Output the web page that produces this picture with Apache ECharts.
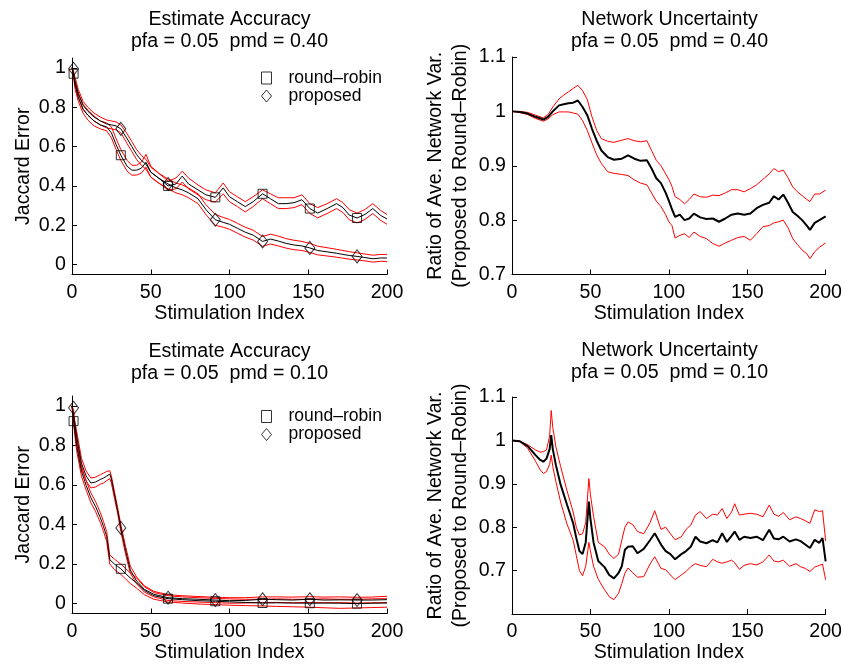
<!DOCTYPE html>
<html>
<head>
<meta charset="utf-8">
<script src="https://cdn.jsdelivr.net/npm/echarts@6/dist/echarts.min.js"></script>
<style>
  html, body { margin: 0; padding: 0; background: #fff; }
  #main { width: 845px; height: 665px; }
</style>
</head>
<body>
<div id="main"></div>
<script>
// ---- top-left: Estimate Accuracy, pmd = 0.40
var x1 = [0,1,2,4,7,10,14,18,22,25,28,31,35,38,41,44,47,50,55,61,66,70,74,80,85,91,96,100,105,110,115,121,126,131,136,141,146,151,156,162,168,172,176,181,186,191,196,200];
var rr1 = [1.0,0.97,0.91,0.85,0.79,0.76,0.73,0.71,0.70,0.67,0.61,0.556,0.50,0.48,0.48,0.49,0.52,0.47,0.44,0.40,0.41,0.45,0.41,0.38,0.355,0.342,0.39,0.345,0.32,0.295,0.32,0.36,0.335,0.31,0.31,0.315,0.33,0.285,0.262,0.285,0.31,0.29,0.252,0.237,0.255,0.285,0.25,0.232];
var rr1Up = [1.0,0.99,0.93,0.87,0.815,0.785,0.755,0.73,0.72,0.70,0.64,0.585,0.53,0.505,0.505,0.52,0.56,0.50,0.465,0.425,0.44,0.475,0.44,0.405,0.38,0.365,0.415,0.37,0.345,0.32,0.345,0.38,0.36,0.34,0.34,0.34,0.355,0.31,0.29,0.31,0.335,0.315,0.28,0.262,0.28,0.31,0.275,0.255];
var rr1Lo = [1.0,0.95,0.89,0.83,0.77,0.735,0.705,0.69,0.68,0.645,0.585,0.53,0.475,0.455,0.455,0.465,0.495,0.445,0.415,0.38,0.385,0.42,0.385,0.355,0.33,0.318,0.36,0.32,0.295,0.268,0.295,0.335,0.31,0.285,0.285,0.29,0.305,0.26,0.238,0.26,0.285,0.265,0.228,0.212,0.23,0.26,0.225,0.205];
var pr1 = [1.0,0.995,0.93,0.87,0.81,0.78,0.75,0.73,0.715,0.71,0.705,0.69,0.64,0.60,0.56,0.53,0.51,0.47,0.44,0.41,0.39,0.38,0.365,0.335,0.28,0.228,0.215,0.205,0.185,0.165,0.15,0.118,0.13,0.12,0.108,0.10,0.095,0.085,0.072,0.065,0.058,0.052,0.047,0.042,0.036,0.03,0.034,0.034];
var pr1Up = [1.0,1.0,0.95,0.89,0.83,0.80,0.77,0.75,0.735,0.73,0.725,0.71,0.665,0.625,0.585,0.555,0.535,0.495,0.465,0.435,0.415,0.405,0.39,0.36,0.305,0.255,0.24,0.23,0.21,0.19,0.175,0.143,0.155,0.145,0.132,0.124,0.118,0.108,0.094,0.086,0.078,0.072,0.066,0.06,0.054,0.048,0.052,0.052];
var pr1Lo = [1.0,0.985,0.91,0.85,0.79,0.76,0.73,0.71,0.695,0.69,0.685,0.67,0.615,0.575,0.535,0.505,0.485,0.445,0.415,0.385,0.365,0.355,0.34,0.31,0.255,0.20,0.19,0.18,0.16,0.14,0.125,0.093,0.105,0.095,0.084,0.076,0.072,0.062,0.05,0.044,0.038,0.033,0.028,0.024,0.019,0.013,0.017,0.016];

// marker positions (every 30 samples)
var markX = [1,31,61,91,121,151,181];
var rr1Mark = [0.97,0.556,0.40,0.342,0.36,0.285,0.237];
var pr1Mark = [0.995,0.69,0.41,0.228,0.118,0.085,0.042];

// ---- top-right: Network Uncertainty, pmd = 0.40
var x2 = [0,5,10,15,20,23,26,30,33,36,39,42,45,48,51,54,57,61,65,70,74,78,82,86,89,92,95,98,100,102,104,107,110,113,116,120,124,128,132,136,140,144,148,152,156,160,164,167,170,173,176,179,182,185,188,190,193,196,200];
var m2 = [1.0,0.999,0.996,0.99,0.985,0.99,1.0,1.011,1.013,1.015,1.016,1.02,1.008,0.993,0.968,0.946,0.928,0.916,0.911,0.913,0.919,0.913,0.909,0.91,0.895,0.877,0.868,0.85,0.836,0.82,0.806,0.81,0.80,0.803,0.812,0.805,0.802,0.803,0.797,0.803,0.81,0.812,0.81,0.812,0.822,0.828,0.832,0.844,0.838,0.847,0.832,0.815,0.808,0.80,0.79,0.782,0.795,0.80,0.807];
var u2 = [1.0,1.0,0.998,0.993,0.988,0.994,1.008,1.023,1.03,1.036,1.042,1.048,1.038,1.022,0.99,0.965,0.95,0.945,0.943,0.947,0.95,0.946,0.944,0.946,0.928,0.91,0.9,0.885,0.875,0.862,0.843,0.838,0.83,0.838,0.848,0.843,0.842,0.846,0.845,0.85,0.856,0.856,0.852,0.858,0.865,0.875,0.885,0.895,0.889,0.892,0.878,0.861,0.852,0.845,0.838,0.834,0.848,0.848,0.855];
var l2 = [1.0,0.998,0.994,0.987,0.982,0.986,0.994,0.999,0.999,0.999,0.997,0.995,0.983,0.965,0.942,0.92,0.904,0.889,0.886,0.884,0.882,0.874,0.868,0.865,0.85,0.835,0.825,0.81,0.797,0.79,0.767,0.772,0.775,0.768,0.778,0.77,0.766,0.757,0.752,0.758,0.763,0.768,0.77,0.763,0.775,0.788,0.79,0.795,0.797,0.80,0.786,0.766,0.755,0.745,0.738,0.729,0.742,0.75,0.758];

// ---- bottom-left: Estimate Accuracy, pmd = 0.10
var x3 = [0,1,3,6,9,12,15,18,20,22,24,25,27,29,31,34,37,41,46,52,61,70,80,91,100,110,121,130,140,151,160,170,181,190,200];
var rr3 = [1.0,0.923,0.795,0.67,0.598,0.535,0.49,0.435,0.39,0.34,0.222,0.215,0.2,0.188,0.176,0.152,0.13,0.105,0.066,0.04,0.025,0.02,0.015,0.012,0.009,0.006,0.003,0.004,0.003,0.002,0.003,0.002,0.0,0.002,0.003];
var rr3Up = [1.0,0.94,0.82,0.695,0.622,0.56,0.515,0.46,0.415,0.365,0.245,0.237,0.225,0.212,0.2,0.178,0.155,0.13,0.085,0.056,0.04,0.034,0.03,0.026,0.024,0.022,0.022,0.024,0.022,0.022,0.024,0.022,0.022,0.024,0.025];
var rr3Lo = [1.0,0.905,0.77,0.645,0.574,0.51,0.465,0.41,0.365,0.315,0.2,0.19,0.172,0.16,0.148,0.125,0.102,0.078,0.045,0.022,0.008,0.003,-0.002,-0.005,-0.008,-0.01,-0.012,-0.014,-0.016,-0.018,-0.021,-0.024,-0.022,-0.02,-0.018];
var pr3 = [1.0,0.99,0.845,0.71,0.645,0.61,0.615,0.628,0.635,0.645,0.655,0.63,0.55,0.47,0.383,0.27,0.17,0.115,0.072,0.047,0.03,0.025,0.022,0.018,0.015,0.016,0.022,0.02,0.018,0.022,0.018,0.019,0.018,0.018,0.02];
var pr3Up = [1.0,1.0,0.87,0.735,0.67,0.635,0.64,0.652,0.66,0.668,0.672,0.645,0.565,0.485,0.40,0.29,0.19,0.135,0.09,0.062,0.045,0.04,0.036,0.032,0.03,0.03,0.034,0.034,0.033,0.035,0.033,0.034,0.032,0.033,0.037];
var pr3Lo = [1.0,0.98,0.82,0.685,0.62,0.585,0.59,0.604,0.61,0.622,0.632,0.61,0.53,0.455,0.365,0.25,0.155,0.10,0.058,0.034,0.016,0.011,0.008,0.005,0.002,0.003,0.006,0.006,0.004,0.006,0.004,0.005,0.003,0.004,0.005];
var rr3Mark = [0.923,0.176,0.025,0.012,0.003,0.002,0.0];
var pr3Mark = [0.99,0.383,0.03,0.018,0.022,0.022,0.018];

// ---- bottom-right: Network Uncertainty, pmd = 0.10
var x4 = [0,5,10,15,18,20,22,24,25,26,28,31,35,39,41,43,45,47,49,50,52,55,59,62,65,68,70,72,74,77,80,84,88,91,95,98,101,104,108,111,114,117,120,124,128,131,134,137,140,142,145,148,152,156,160,164,167,170,173,177,181,184,187,190,193,196,198,200];
var m4 = [1.0,0.998,0.987,0.966,0.955,0.951,0.958,0.98,1.012,0.98,0.943,0.898,0.853,0.809,0.775,0.745,0.738,0.765,0.859,0.82,0.765,0.722,0.708,0.69,0.682,0.695,0.71,0.748,0.755,0.756,0.74,0.75,0.77,0.786,0.76,0.745,0.738,0.726,0.738,0.745,0.755,0.778,0.767,0.763,0.77,0.765,0.786,0.766,0.78,0.79,0.771,0.778,0.775,0.778,0.77,0.794,0.774,0.772,0.778,0.767,0.772,0.768,0.76,0.752,0.771,0.764,0.775,0.721];
var u4 = [1.0,0.998,0.99,0.978,0.973,0.974,0.978,1.01,1.069,1.03,0.985,0.94,0.885,0.835,0.8,0.782,0.785,0.81,0.912,0.875,0.825,0.765,0.755,0.738,0.728,0.738,0.77,0.8,0.812,0.806,0.79,0.785,0.81,0.838,0.795,0.8,0.785,0.771,0.778,0.795,0.805,0.828,0.836,0.82,0.83,0.828,0.843,0.82,0.835,0.854,0.828,0.83,0.832,0.83,0.824,0.851,0.83,0.825,0.834,0.817,0.824,0.82,0.815,0.809,0.84,0.836,0.838,0.768];
var l4 = [1.0,0.997,0.982,0.952,0.932,0.924,0.928,0.945,0.966,0.94,0.905,0.858,0.808,0.77,0.735,0.7,0.688,0.71,0.765,0.745,0.71,0.68,0.656,0.64,0.633,0.648,0.67,0.694,0.706,0.695,0.685,0.686,0.715,0.732,0.705,0.702,0.69,0.679,0.69,0.698,0.709,0.716,0.712,0.709,0.726,0.72,0.717,0.72,0.724,0.718,0.703,0.712,0.716,0.713,0.72,0.736,0.722,0.72,0.724,0.71,0.716,0.709,0.705,0.698,0.708,0.712,0.715,0.679];

var FONT = 'Liberation Sans';
var FS = 19.6;

function pairs(xs, ys) {
    return xs.map(function (x, i) { return [x, ys[i]]; });
}

function band(name, xs, ys, g, color, width) {
    return {
        name: name, type: 'line', xAxisIndex: g, yAxisIndex: g,
        data: pairs(xs, ys), symbol: 'none', silent: true,
        lineStyle: { color: color, width: width }
    };
}

function marks(name, ys, g, sym, size) {
    return {
        name: name, type: 'scatter', xAxisIndex: g, yAxisIndex: g,
        data: pairs(markX, ys), symbol: sym, symbolSize: size, z: 5,
        itemStyle: { color: 'rgba(0,0,0,0)', borderColor: '#000', borderWidth: 1 }
    };
}

var grids = [
    { left: 72, top: 58, width: 315, height: 216.5 },
    { left: 512, top: 57, width: 315.5, height: 217.5 },
    { left: 72, top: 396, width: 315, height: 217.5 },
    { left: 512, top: 397, width: 315.5, height: 217 }
];

var axisCommon = {
    axisLine: { onZero: false, lineStyle: { color: '#000', width: 1 } },
    axisTick: { inside: true, length: 5, lineStyle: { color: '#000' } },
    splitLine: { show: false },
    axisLabel: { color: '#000', fontFamily: FONT, fontSize: FS },
    nameTextStyle: { color: '#000', fontFamily: FONT, fontSize: FS }
};

function xAx(g) {
    return Object.assign({}, axisCommon, {
        type: 'value', gridIndex: g, min: 0, max: 200, interval: 50,
        name: 'Stimulation Index', nameLocation: 'middle', nameGap: 27,
        axisLabel: Object.assign({}, axisCommon.axisLabel, { margin: 8 })
    });
}

var jacTicks = [0, 0.2, 0.4, 0.6, 0.8, 1];
var ratioTicks = [0.7, 0.8, 0.9, 1, 1.1];

function yJac(g) {
    return Object.assign({}, axisCommon, {
        type: 'value', gridIndex: g, min: -0.05, max: 1.05,
        name: 'Jaccard Error', nameLocation: 'middle', nameGap: 38,
        axisLabel: Object.assign({}, axisCommon.axisLabel, { margin: 6, customValues: jacTicks }),
        axisTick: Object.assign({}, axisCommon.axisTick, { customValues: jacTicks })
    });
}

function yRatio(g, lo) {
    return Object.assign({}, axisCommon, {
        type: 'value', gridIndex: g, min: lo, max: 1.1,
        name: 'Ratio of Ave. Network Var.\n(Proposed to Round\u2013Robin)',
        nameLocation: 'middle', nameGap: 39,
        nameTextStyle: Object.assign({}, axisCommon.nameTextStyle, { lineHeight: 25 }),
        axisLabel: Object.assign({}, axisCommon.axisLabel, { margin: 6, customValues: ratioTicks }),
        axisTick: Object.assign({}, axisCommon.axisTick, { customValues: ratioTicks })
    });
}

function ttl(text, cx, top) {
    return {
        text: text, left: cx, top: top, textAlign: 'center', padding: 0,
        textStyle: { color: '#000', fontFamily: FONT, fontSize: FS, fontWeight: 'normal', lineHeight: 22 }
    };
}

function leg(top) {
    return {
        data: ['round\u2013robin', 'proposed'], orient: 'vertical',
        left: 256, top: top, itemWidth: 10, itemHeight: 12, itemGap: 0,
        itemStyle: { color: 'rgba(0,0,0,0)', borderColor: '#000', borderWidth: 1 },
        textStyle: { color: '#000', fontFamily: FONT, fontSize: 17.5, lineHeight: 18, padding: [0, 0, 0, 12] }
    };
}

var RED = '#ff0000';
var series = [
    band('rrUp1', x1, rr1Up, 0, RED, 1), band('rrLo1', x1, rr1Lo, 0, RED, 1),
    band('prUp1', x1, pr1Up, 0, RED, 1), band('prLo1', x1, pr1Lo, 0, RED, 1),
    band('rr1', x1, rr1, 0, '#000', 1), band('pr1', x1, pr1, 0, '#000', 1),
    marks('round\u2013robin', rr1Mark, 0, 'rect', 9),
    marks('proposed', pr1Mark, 0, 'diamond', [10, 13]),

    band('u2', x2, u2, 1, RED, 1), band('l2', x2, l2, 1, RED, 1),
    band('m2', x2, m2, 1, '#000', 2),

    band('rrUp3', x3, rr3Up, 2, RED, 1), band('rrLo3', x3, rr3Lo, 2, RED, 1),
    band('prUp3', x3, pr3Up, 2, RED, 1), band('prLo3', x3, pr3Lo, 2, RED, 1),
    band('rr3', x3, rr3, 2, '#000', 1), band('pr3', x3, pr3, 2, '#000', 1),
    marks('round\u2013robin', rr3Mark, 2, 'rect', 9),
    marks('proposed', pr3Mark, 2, 'diamond', [10, 13]),

    band('u4', x4, u4, 3, RED, 1), band('l4', x4, l4, 3, RED, 1),
    band('m4', x4, m4, 3, '#000', 2)
];

var chart = echarts.init(document.getElementById('main'));
chart.setOption({
    animation: false,
    backgroundColor: '#fff',
    title: [
        ttl('Estimate Accuracy\npfa = 0.05  pmd = 0.40', 229.5, 9),
        ttl('Network Uncertainty\npfa = 0.05  pmd = 0.40', 669.5, 9),
        ttl('Estimate Accuracy\npfa = 0.05  pmd = 0.10', 229.5, 341),
        ttl('Network Uncertainty\npfa = 0.05  pmd = 0.10', 669.5, 340)
    ],
    legend: [leg(64), leg(402.5)],
    grid: grids,
    xAxis: [xAx(0), xAx(1), xAx(2), xAx(3)],
    yAxis: [yJac(0), yRatio(1, 0.7), yJac(2), yRatio(3, 0.6)],
    series: series
});
</script>
</body>
</html>
